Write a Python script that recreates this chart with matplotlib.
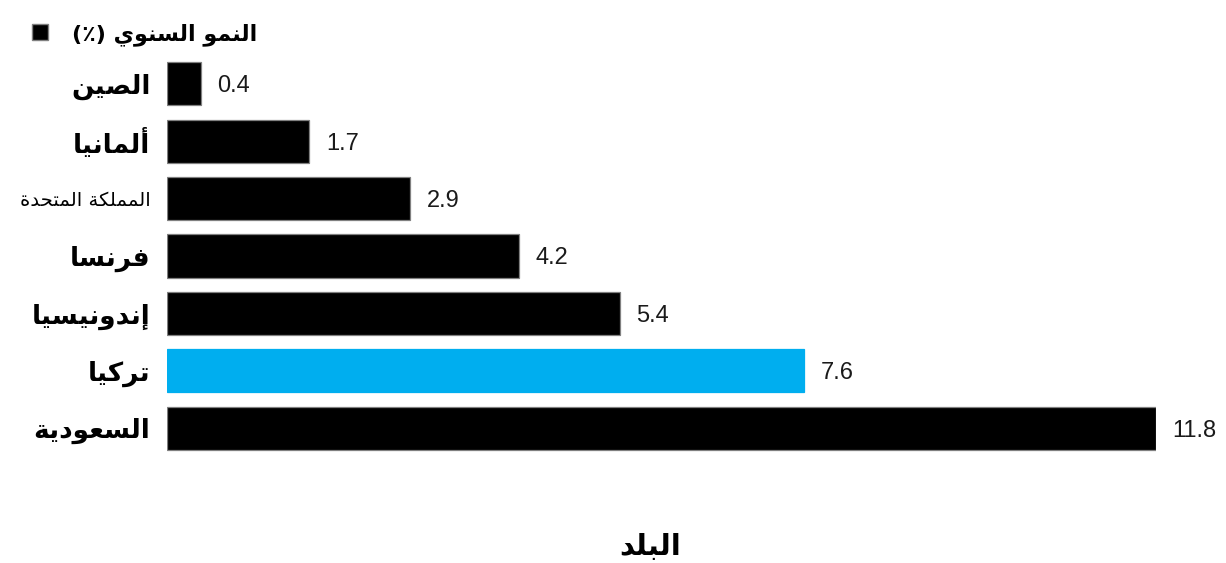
import matplotlib
matplotlib.use("Agg")
import matplotlib.pyplot as plt
from matplotlib.patches import Patch

# البيانات (النمو السنوي %)
countries = ["الصين", "ألمانيا", "المملكة المتحدة", "فرنسا", "إندونيسيا", "تركيا", "السعودية"]
growth = [0.4, 1.7, 2.9, 4.2, 5.4, 7.6, 11.8]
highlight = "تركيا"
legend_label = "النمو السنوي (٪)"
x_label = "البلد"

BLACK = "#000000"
BLUE = "#00aeef"

# matplotlib لا يشكّل الحروف العربية: تحويل بسيط إلى أشكال العرض + عكس الترتيب
FORMS = {
    "\u0627": (0xFE8D, 0xFE8E, None, None),
    "\u0623": (0xFE83, 0xFE84, None, None),
    "\u0625": (0xFE87, 0xFE88, None, None),
    "\u0628": (0xFE8F, 0xFE90, 0xFE91, 0xFE92),
    "\u0629": (0xFE93, 0xFE94, None, None),
    "\u062A": (0xFE95, 0xFE96, 0xFE97, 0xFE98),
    "\u062D": (0xFEA1, 0xFEA2, 0xFEA3, 0xFEA4),
    "\u062F": (0xFEA9, 0xFEAA, None, None),
    "\u0631": (0xFEAD, 0xFEAE, None, None),
    "\u0633": (0xFEB1, 0xFEB2, 0xFEB3, 0xFEB4),
    "\u0635": (0xFEB9, 0xFEBA, 0xFEBB, 0xFEBC),
    "\u0639": (0xFEC9, 0xFECA, 0xFECB, 0xFECC),
    "\u0641": (0xFED1, 0xFED2, 0xFED3, 0xFED4),
    "\u0643": (0xFED9, 0xFEDA, 0xFEDB, 0xFEDC),
    "\u0644": (0xFEDD, 0xFEDE, 0xFEDF, 0xFEE0),
    "\u0645": (0xFEE1, 0xFEE2, 0xFEE3, 0xFEE4),
    "\u0646": (0xFEE5, 0xFEE6, 0xFEE7, 0xFEE8),
    "\u0648": (0xFEED, 0xFEEE, None, None),
    "\u064A": (0xFEF1, 0xFEF2, 0xFEF3, 0xFEF4),
}


def shape_ar(s):
    out = []
    for i, ch in enumerate(s):
        if ch not in FORMS:
            out.append(ch)
            continue
        prev = s[i - 1] if i > 0 else ""
        nxt = s[i + 1] if i + 1 < len(s) else ""
        join_prev = prev in FORMS and FORMS[prev][2] is not None
        join_next = FORMS[ch][2] is not None and nxt in FORMS
        iso, fin, ini, med = FORMS[ch]
        if join_prev and join_next:
            c = med
        elif join_prev:
            c = fin
        elif join_next:
            c = ini
        else:
            c = iso
        out.append(chr(c))
    vis = "".join(reversed(out))
    return vis.translate(str.maketrans("()", ")("))


plt.rcParams["font.family"] = ["DejaVu Sans"]
AR = ["DejaVu Sans"]
NUM = ["Liberation Sans Narrow", "Liberation Sans", "DejaVu Sans"]

fig = plt.figure(figsize=(12.26, 5.63), dpi=100)
ax = fig.add_axes([167 / 1226, 1 - 457 / 563, (1156 - 167) / 1226, (457 - 55) / 563])

colors = [BLUE if c == highlight else BLACK for c in countries]
edges = ["#00aeef" if c == highlight else "#808080" for c in countries]
y = list(range(len(countries)))
ax.barh(y, growth, height=0.75, color=colors, edgecolor=edges, linewidth=0.9)

for yi, v in zip(y, growth):
    ax.annotate(f"{v:.1f}", (v, yi), xytext=(12, 0), textcoords="offset points",
                ha="left", va="center_baseline", fontsize=17, family=NUM, color="#1a1a1a")

ax.set_ylim(len(countries) - 0.5, -0.5)
ax.set_xlim(0, max(growth))
ax.set_yticks(y)
ax.set_yticklabels([shape_ar(c) for c in countries], fontsize=19, fontweight="bold", family=AR)
ax.tick_params(axis="y", length=0, pad=12)
for lbl, c in zip(ax.get_yticklabels(), countries):
    if c == "المملكة المتحدة":
        lbl.set_fontsize(14)
        lbl.set_fontweight("normal")
ax.set_xticks([])
ax.set_xlabel(shape_ar(x_label), fontsize=21, fontweight="bold", family=AR)
ax.xaxis.set_label_coords((650 - 167) / 989, -0.19)
for s in ax.spines.values():
    s.set_visible(False)

handle = Patch(facecolor=BLACK, edgecolor="#808080")
fig.legend([handle], [shape_ar(legend_label)], loc="upper left",
           bbox_to_anchor=(12 / 1226, 1 - 3 / 563), frameon=False,
           handlelength=0.7, handleheight=0.7, handletextpad=1.1,
           prop={"family": AR, "size": 16, "weight": "bold"})

fig.savefig("out.png", dpi=100)
